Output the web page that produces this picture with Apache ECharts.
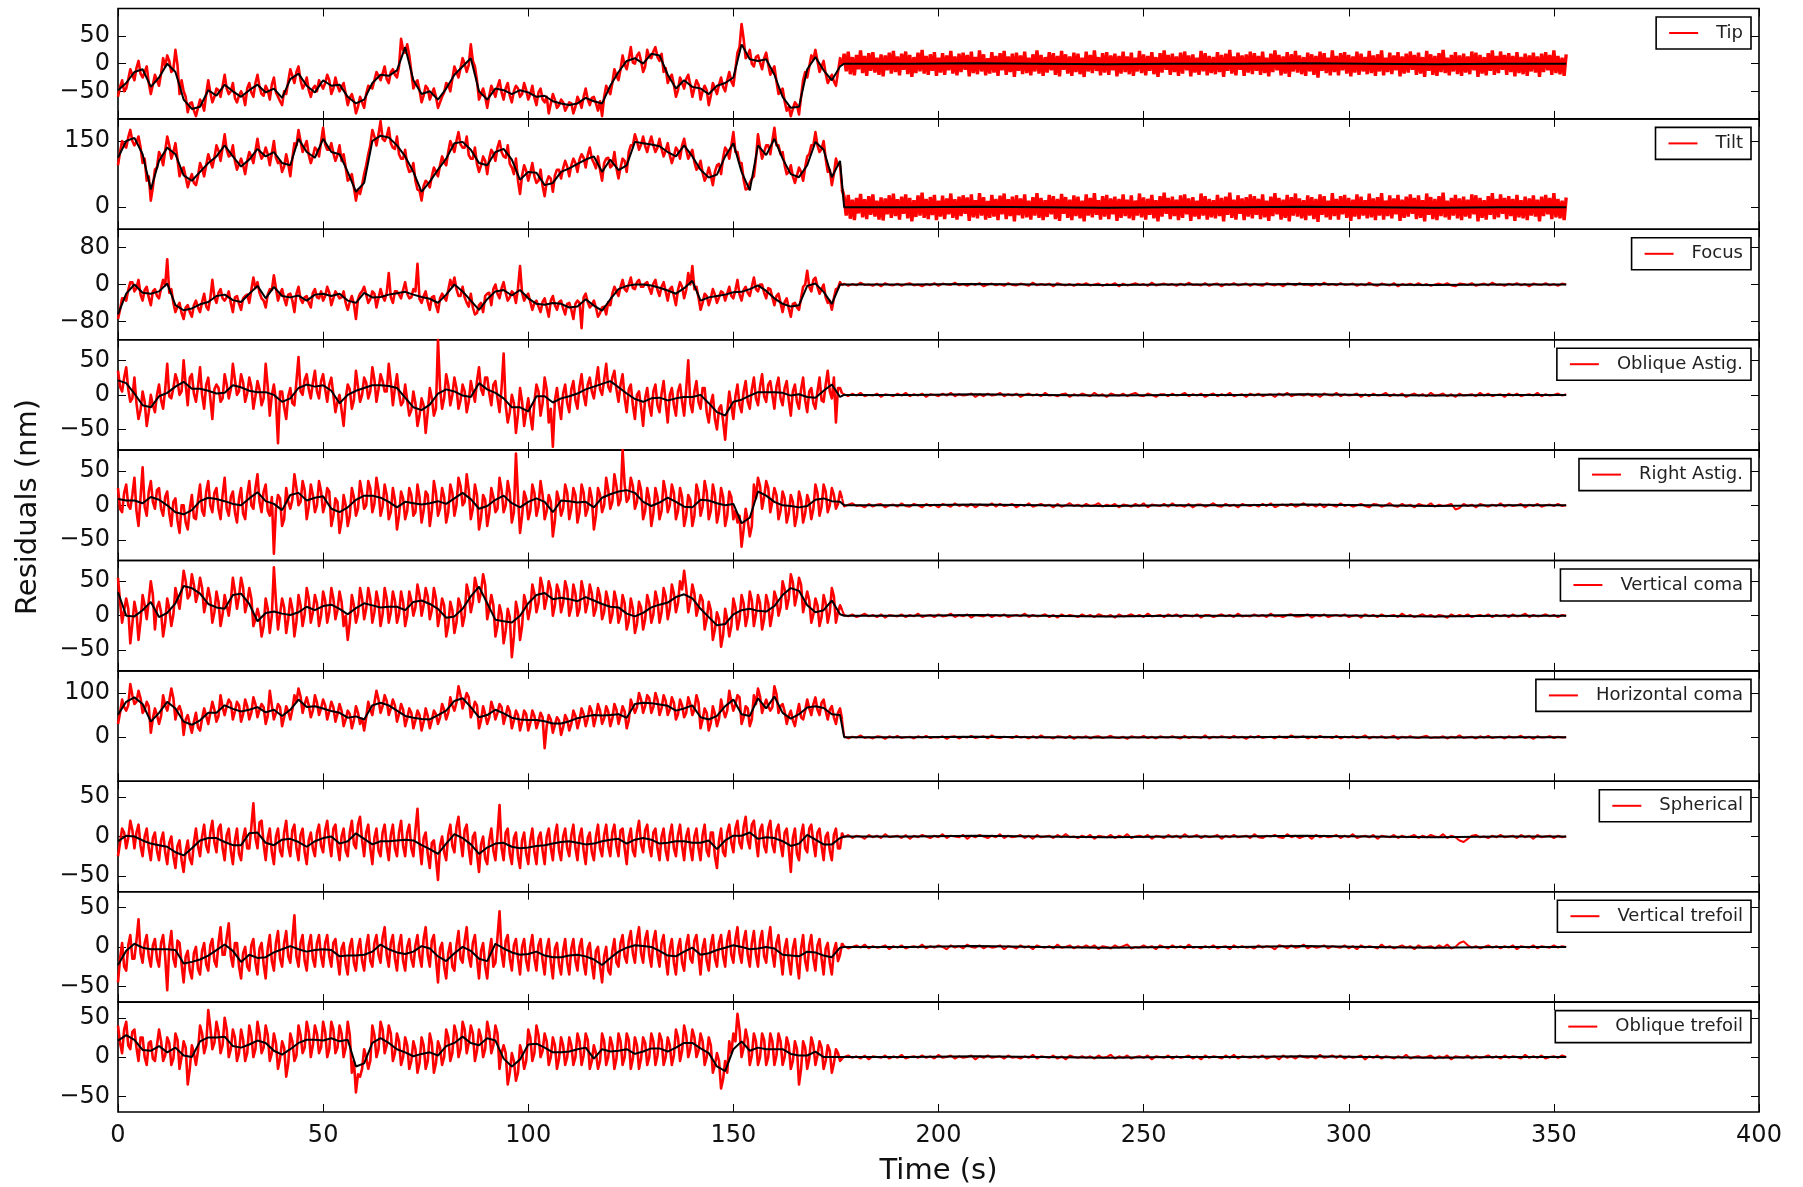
<!DOCTYPE html>
<html>
<head>
<meta charset="utf-8">
<script src="https://cdn.jsdelivr.net/npm/echarts@6/dist/echarts.min.js"></script>
<style>
html,body{margin:0;padding:0;background:#fff}
#chart{width:1803px;height:1187px}
</style>
</head>
<body>
<div id="chart"></div>
<script>
// ---- Sampling of the series (seconds) ----
// Raw residuals while disturbed come as two arrays: whole seconds and the half seconds between.
const ACTIVE_STEP = 1;
const HALF_OFFSET = 0.5;
const TREND_STEP = 2;           // smoothed residual trend
const SETTLE_START = 177;       // first sample after correction settles
const SETTLED_TREND_STEP = 16;

// x axis
const timeTicks = [0, 50, 100, 150, 200, 250, 300, 350, 400];

// ---- Tip ----
const tipTicks = [-50, 0, 50];
const tipActive = [
 -60,-30,-45,-10,-30,5,-25,-5,-55,-20,
 -40,10,15,-15,25,-55,-50,-88,-70,-95,
 -65,-85,-30,-70,-45,-60,-20,-55,-35,-70,
 -50,-75,-35,-60,-20,-55,-40,-65,-25,-60,
 -75,-55,-10,-35,-5,-45,-25,-60,-40,-30,
 -45,-20,-55,-25,-50,-35,-75,-55,-90,-60,
 -80,-40,-45,-15,-30,-5,-35,-10,-25,45,
 20,15,-45,-30,-70,-40,-65,-45,-80,-60,
 -35,-50,-5,-25,10,-15,35,-5,-65,-45,
 -80,-40,-60,-30,-65,-35,-70,-40,-60,-35,
 -65,-40,-75,-45,-70,-90,-55,-80,-65,-85,
 -70,-90,-60,-80,-45,-75,-60,-85,-95,-40,
 -55,-10,-30,15,-10,30,0,20,-15,25,
 10,30,5,-15,-35,-20,-60,-25,-45,-20,
 -60,-30,-65,-40,-75,-35,-55,-25,-50,-15,
 -40,20,72,10,25,-5,15,-10,20,-20,
 -5,-55,-45,-85,-95,-70,-92,-30,-25,15,
 25,-15,5,-35,-20,-40,10
];
const tipActiveHalf = [
 -42,-50,-28,-20,-8,-18,-15,-35,-38,-30,
 -18,-5,5,-10,-2,-30,-60,-72,-85,-80,
 -72,-55,-52,-60,-48,-40,-45,-50,-62,-58,
 -58,-45,-52,-35,-42,-58,-48,-38,-52,-68,
 -50,-32,-22,-15,-30,-38,-48,-45,-50,-38,
 -35,-30,-45,-40,-42,-55,-62,-68,-78,-70,
 -55,-42,-30,-22,-18,-28,-15,-20,-5,25,
 35,-15,-35,-48,-58,-45,-55,-60,-70,-52,
 -38,-28,-15,-8,0,-2,5,-30,-55,-60,
 -58,-50,-42,-52,-45,-58,-50,-45,-55,-48,
 -55,-62,-52,-65,-60,-72,-65,-75,-70,-78,
 -72,-78,-68,-60,-65,-62,-72,-68,-60,-48,
 -35,-22,-10,-2,8,2,15,5,-5,12,
 22,12,18,-8,-25,-38,-48,-35,-28,-38,
 -45,-38,-50,-48,-58,-45,-38,-42,-30,-32,
 -10,30,45,15,0,12,2,10,-2,-12,
 -32,-52,-68,-78,-82,-75,-60,-15,-5,8,
 5,-5,-18,-28,-32,-15,-2
];
const tipTrend = [
 -48,-35,-15,-10,-42,-25,0,-15,-65,-82,
 -78,-48,-58,-38,-50,-60,-48,-38,-52,-45,
 -62,-28,-18,-40,-52,-30,-40,-38,-60,-72,
 -65,-35,-20,-22,-12,30,-30,-55,-50,-65,
 -45,-20,-5,10,-50,-65,-45,-48,-55,-48,
 -52,-60,-58,-68,-72,-75,-72,-62,-68,-72,
 -40,-15,5,10,0,18,15,-20,-45,-30,
 -42,-45,-55,-40,-35,-25,35,8,5,8,
 -20,-60,-80,-78,-10,12,-12,-30,-5
];
const tipSettled = [
 18,-14,22,-19,12,-21,16,-10,24,-17,14,-22,19,-13,21,-16,11,-20,17,-23,
 15,-12,20,-18,23,-15,13,-21,18,-11,22,-19,16,-24,12,-17,20,-14,25,-18,
 14,-20,17,-13,21,-22,11,-16,19,-20,15,-12,23,-18,13,-21,18,-15,20,-11,
 16,-23,22,-17,12,-19,24,-14,17,-21,10,-18,21,-16,14,-22,19,-12,23,-20,
 13,-15,18,-24,20,-13,15,-19,22,-17,11,-21,17,-14,24,-18,16,-22,12,-16,
 21,-12,19,-20,14,-23,23,-11,17,-18,13,-22,20,-15,18,-19,11,-24,22,-14,
 16,-17,24,-13,12,-21,19,-16,21,-20,15,-12,18,-23,14,-18,22,-15,13,-19,
 20,-22,11,-14,23,-17,17,-21,14,-13,21,-19,12,-24,19,-16,24,-11,16,-20,
 18,-15,13,-22,20,-18,22,-12,15,-23,17,-16,11,-20,23,-14,19,-21,14,-17,
 12,-19,21,-15,16,-24,18,-13,25,-18,13,-21,20,-11,15,-22,17,-16,22,-19,
 19,-13,14,-20,22,-17,11,-23,18,-15,24,-12,16,-21,13,-18,21,-24,17,-14,
 23,-16,15,-19,12,-22,20,-14,17,-20,14,-25,22,-13,19,-17,11,-21,24,-15,
 14,-21,19,-12,21,-18,16,-23,13,-16,22,-20,18,-14,12,-19,23,-17,15,-22,
 17,-14,24,-21,11,-15,20,-19,15,-12,21,-23,13,-18,18,-16,22,-11,16,-20,
 20,-18,12,-24,23,-13,17,-20,14,-22,19,-15,25,-17,11,-21,16,-14,21,-19,
 15,-22,18,-16,13,-19,22,-12,20,-24,16,-18,12,-21,19,-13,24,-20,14,-17,
 22,-11,16,-20,19,-15,14,-23,21,-17,12,-19,18,-22,15,-14,20,-16,13,-24,
 18,-15,21,-12,16,-20,24,-17,14,-19,11,-22,17
];

// ---- Tilt ----
const tiltTicks = [0, 150];
const tiltActive = [
 95,150,135,175,140,160,100,60,15,85,
 125,95,160,110,145,70,90,45,75,50,
 100,70,120,90,140,105,165,115,140,85,
 110,75,125,100,155,110,135,95,150,100,
 80,120,70,145,175,125,150,100,135,115,
 180,130,145,105,140,120,60,75,15,30,
 75,120,175,140,195,150,180,135,160,110,
 130,80,100,40,15,60,45,90,70,115,
 95,150,125,170,135,160,110,135,80,115,
 75,130,105,150,115,140,90,110,30,95,
 60,100,55,85,25,70,35,85,65,105,
 70,110,80,120,90,135,100,115,60,110,
 90,125,65,110,80,140,165,130,160,125,
 160,125,155,115,145,100,135,110,155,110,
 130,85,105,60,90,50,95,75,135,110,
 170,125,100,40,55,70,165,110,140,120,
 180,140,125,75,95,55,90,60,115,140,
 170,125,150,80,50,110,95
];
const tiltActiveHalf = [
 125,140,158,150,148,135,110,70,45,90,
 115,128,140,125,108,85,68,62,55,70,
 88,95,105,112,128,135,130,118,105,98,
 95,105,115,128,125,118,120,122,112,105,
 92,98,110,140,150,138,118,115,130,148,
 142,130,122,118,105,90,65,45,40,50,
 95,140,160,165,155,160,145,132,120,110,
 95,82,60,38,48,55,70,80,95,102,
 125,138,150,142,135,118,110,98,95,105,
 110,122,135,125,112,98,75,60,72,82,
 78,70,60,48,58,65,72,85,88,92,
 95,100,108,112,118,110,88,85,100,112,
 95,88,90,105,125,140,150,142,138,145,
 140,135,132,128,118,115,128,140,130,120,
 102,90,78,70,72,80,98,112,128,140,
 125,100,62,42,65,110,135,125,140,150,
 140,120,95,80,70,72,80,90,120,140,
 140,132,110,85,75,95,40
];
const tiltTrend = [
 112,150,157,120,40,105,135,120,72,60,
 80,100,115,140,115,92,108,132,115,125,
 100,95,155,125,112,155,125,120,80,35,
 55,150,162,158,140,115,80,35,58,85,
 110,145,148,130,100,95,125,132,108,62,
 80,78,50,55,80,88,98,108,115,80,
 108,84,95,148,145,142,138,125,115,140,
 115,85,67,74,115,145,80,38,140,118,
 155,110,75,68,95,148,130,68,105
];
const tiltSettled = [
 24,-19,28,-26,17,-29,21,-14,30,-23,18,-27,25,-17,29,-21,15,-28,22,-30,
 20,-16,27,-24,31,-20,18,-28,24,-15,29,-25,21,-32,16,-22,27,-19,33,-24,
 19,-27,23,-18,28,-29,15,-21,26,-27,20,-16,31,-24,18,-28,24,-20,27,-15,
 22,-31,29,-23,16,-25,32,-19,23,-28,14,-24,28,-21,19,-29,26,-16,31,-27,
 18,-20,24,-32,27,-18,20,-25,29,-23,15,-28,23,-19,32,-24,21,-29,16,-22,
 28,-16,25,-27,19,-31,30,-15,23,-24,17,-29,27,-20,24,-25,15,-32,29,-19,
 21,-23,32,-17,16,-28,25,-21,28,-27,20,-16,24,-31,19,-24,29,-20,17,-25,
 27,-29,15,-19,31,-23,22,-28,19,-17,28,-25,16,-32,25,-21,33,-15,21,-27,
 24,-20,17,-29,27,-24,29,-16,20,-31,23,-21,15,-27,31,-19,25,-28,19,-23,
 16,-25,28,-20,21,-32,24,-17,33,-24,17,-28,27,-15,20,-29,23,-21,29,-25,
 25,-17,19,-27,29,-23,15,-31,24,-20,32,-16,21,-28,17,-24,28,-32,23,-19,
 31,-21,20,-25,16,-29,27,-19,23,-27,19,-33,29,-17,25,-23,15,-28,32,-20,
 19,-28,25,-16,28,-24,21,-31,17,-21,29,-27,24,-19,16,-25,31,-23,20,-29,
 23,-19,32,-28,15,-20,27,-25,20,-16,28,-31,17,-24,24,-21,29,-15,21,-27,
 27,-24,16,-32,31,-17,23,-27,19,-29,25,-20,33,-23,15,-28,21,-19,28,-25,
 20,-29,24,-21,17,-25,29,-16,27,-32,21,-24,16,-28,25,-17,32,-27,19,-23,
 29,-15,21,-27,25,-20,19,-31,28,-23,16,-25,24,-29,20,-19,27,-21,17,-32,
 24,-20,28,-16,21,-27,32,-23,19,-25,15,-29,22
];

// ---- Focus ----
const focusTicks = [-80, 0, 80];
const focusActive = [
 -75,-30,-35,5,-15,10,-35,-5,-45,-10,
 -30,10,55,-10,-60,-40,-75,-45,-70,-35,
 -60,-20,-55,10,-40,-10,-35,-15,-60,-25,
 -55,-25,-40,15,5,-30,-50,-10,20,-35,
 -10,-45,-20,-60,-5,-40,-25,-50,-10,-30,
 -35,-5,-45,-15,-30,-15,-55,-25,-75,-20,
 -5,-40,-15,-50,-10,-35,25,-40,-15,-30,
 5,-30,-10,45,-40,-15,-55,-25,-60,-20,
 -35,10,15,-25,-5,-40,-20,-65,-45,-60,
 -20,-45,0,-30,5,-35,-15,-40,40,-35,
 -20,-55,-35,-60,-30,-70,-25,-55,-35,-65,
 -40,-75,-35,-95,-20,-50,-35,-70,-50,-65,
 -45,-5,-25,10,-15,15,-10,10,-5,5,
 -20,10,-25,5,-35,-5,-45,5,-30,25,
 40,-5,-55,-20,-45,-10,-40,-15,-35,-5,
 -30,10,-35,-5,-25,15,-15,0,-30,-10,
 -45,-20,-60,-30,-70,-40,-55,-5,30,-15,
 15,-20,0,-40,-55,-10,5
];
const focusActiveHalf = [
 -55,-30,-12,5,-8,-22,-12,-28,-15,-25,
 -8,-2,-18,-40,-48,-62,-50,-60,-45,-50,
 -38,-48,-30,-28,-18,-30,-28,-40,-28,-42,
 -30,-22,-12,-8,-18,-35,-22,-12,-8,-20,
 -30,-22,-35,-20,-32,-28,-40,-18,-28,-15,
 -25,-18,-30,-22,-28,-40,-38,-42,-32,-15,
 -22,-32,-20,-30,-25,-18,-28,-15,-22,-12,
 -20,-28,-15,-32,-25,-38,-28,-45,-30,-28,
 -12,-5,-10,-25,-28,-48,-50,-62,-40,-25,
 -18,-10,-20,-8,-18,-28,-20,-8,-18,-25,
 -38,-40,-48,-38,-50,-35,-45,-38,-52,-42,
 -55,-42,-40,-28,-38,-45,-50,-62,-48,-38,
 -20,-15,-5,-10,0,-8,5,-5,2,-8,
 2,-12,-5,-15,-10,-25,-12,-5,-12,0,
 -10,-28,-40,-25,-30,-22,-28,-18,-20,-25,
 -12,-22,-12,-18,-5,-10,0,-18,-8,-28,
 -25,-40,-38,-52,-42,-50,-30,0,-5,10,
 -5,-10,-28,-35,-30,-8,-2
];
const focusTrend = [
 -65,-20,0,-18,-20,-15,2,-45,-56,-52,
 -43,-38,-25,-22,-34,-38,-20,-3,-30,-5,
 -25,-28,-24,-35,-22,-20,-25,-20,-35,-40,
 -18,-28,-27,-22,-19,-16,-22,-27,-31,-40,
 -22,0,-15,-35,-55,-32,-15,-12,-24,-12,
 -30,-42,-44,-40,-42,-50,-48,-32,-46,-57,
 -32,-10,-3,0,0,-2,-7,-13,-20,-8,
 8,-35,-28,-25,-22,-17,-16,-10,-2,-14,
 -30,-42,-48,-45,-3,2,-16,-42,0
];
const focusSettled = [
 2,-3,1,-2,4,-1,0,-3,2,-4,3,-1,-2,2,-3,1,3,-2,0,-4,
 1,-2,3,-3,2,0,-1,4,-2,1,-3,2,-1,3,-4,0,2,-2,1,-3,
 3,-1,-2,2,0,-3,4,-2,1,-1,2,-4,3,0,-2,1,-3,2,-1,3,
 -2,0,2,-3,1,-1,3,-4,2,-2,0,3,-1,1,-3,4,-2,0,2,-1,
 1,-3,2,-2,4,-1,0,-2,3,-3,1,2,-4,1,-1,3,-2,0,2,-3,
 2,-1,-3,3,0,-2,1,-4,2,1,-2,3,-1,0,-3,2,-2,4,-1,1,
 -2,3,-1,0,2,-3,1,-2,4,-1,-3,2,0,-2,3,-4,1,-1,2,-2,
 3,-2,1,-3,0,2,-1,3,-2,-4,2,1,-1,3,-3,0,2,-2,4,-1,
 0,-3,2,-1,3,-2,1,-4,2,0,-1,3,-2,1,-3,2,0
];

// ---- Oblique astigmatism ----
const obliqueAstigTicks = [-50, 0, 50];
const obliqueAstigActive = [
 35,5,40,-10,25,-35,5,-45,0,-25,
 15,-20,45,-5,30,0,50,-15,30,-10,
 40,-20,25,-35,15,-10,30,-5,45,0,
 30,-10,25,-20,20,-15,45,-30,15,-70,
 5,-35,10,-15,55,0,30,-5,35,-5,
 30,-10,25,-25,0,-45,15,-20,35,-10,
 25,-5,40,-10,30,5,45,-15,30,-15,
 15,-30,5,-45,-5,-55,10,-30,80,-20,
 30,-15,25,-20,15,-25,20,-10,40,0,
 25,-15,20,-25,60,-40,0,-55,10,-45,
 -5,-50,15,-30,25,-40,-75,10,-35,15,
 -25,20,-20,30,-15,25,-5,40,0,45,
 5,35,-10,30,-25,15,-35,5,-45,10,
 -30,15,-25,20,-40,10,-30,15,-30,50,
 -25,20,-20,10,-40,0,-50,-15,-65,5,
 -35,15,-25,20,-20,25,-15,30,-10,20,
 -20,25,-15,20,-30,15,-20,25,-25,10,
 -20,25,-10,35,-5,-40,10
];
const obliqueAstigActiveHalf = [
 12,25,8,-5,-12,-22,-10,-25,-15,0,
 -8,8,-2,10,20,5,15,25,2,12,
 0,15,-5,8,10,-5,15,8,22,5,
 18,2,12,-2,8,-5,12,0,-8,5,
 -18,-2,-12,20,5,22,8,18,5,20,
 8,15,0,-10,-22,-5,8,-8,12,0,
 18,5,22,8,20,5,18,10,2,-10,
 -8,-22,-12,-30,-15,-25,-5,-20,10,-5,
 15,0,10,-8,5,-10,5,20,8,25,
 2,15,-5,10,-15,-25,-12,-28,-10,-25,
 -30,-10,5,-12,8,-20,-8,-15,2,-12,
 8,-8,12,0,15,5,18,8,22,12,
 25,8,15,-5,8,-15,0,-18,-5,-15,
 5,-15,2,-12,0,-15,5,-10,8,-12,
 5,-10,10,-25,-12,-35,-20,-38,-25,-15,
 -2,-15,5,-10,8,-5,12,-2,15,0,
 12,-5,10,-8,5,-10,8,-8,5,-12,
 5,-8,15,5,25,10,2
];
const obliqueAstigTrend = [
 21,17,2,-15,-18,-2,3,12,19,9,
 9,6,2,3,14,11,6,4,4,0,
 -10,-5,10,15,12,14,6,-12,0,6,
 10,14,14,13,10,-4,-18,-22,-14,2,
 8,5,-1,-3,17,8,3,-5,-18,-18,
 -24,-2,-2,-11,-5,-2,2,8,12,16,
 20,11,2,-6,-10,-5,-4,-8,-5,-3,
 -3,0,-12,-25,-30,-10,-7,-1,4,4,
 4,3,-1,1,-3,-4,6,15,-3
];
const obliqueAstigSettled = [
 1,-2,2,-1,3,-2,0,-1,2,-3,1,0,-2,2,-1,3,-2,1,-1,2,
 -3,1,0,-2,2,-1,3,-2,1,-1,0,2,-3,1,-2,2,-1,0,3,-2,
 1,-1,2,-3,0,2,-1,1,-2,3,-1,0,-2,1,2,-3,1,-1,2,0,
 -2,3,-1,1,-3,2,0,-1,2,-2,1,3,-1,-2,2,0,-3,1,1,-2,
 2,-1,0,3,-2,1,-1,2,-3,0,2,-2,1,-1,3,-2,0,1,-3,2,
 -1,2,-2,0,1,-3,2,-1,3,-2,0,1,-1,2,-2,1,-3,2,0,-1,
 3,-2,1,-1,0,2,-3,1,-2,2,-1,0,3,-2,1,-1,2,-3,0,2,
 -1,1,-2,3,-1,0,2,-2,1,-3,2,-1,0,1,-2,3,-1,2,-2,0,
 1,-3,2,-1,2,-2,0,1,-1,3,-2,1,-1,0,2,-1,1
];

// ---- Right astigmatism ----
const rightAstigTicks = [-50, 0, 50];
const rightAstigActive = [
 25,-10,30,-5,40,-30,55,-15,35,-5,
 25,-15,20,-30,10,-40,0,-35,15,-20,
 30,-15,35,-10,25,-20,40,-15,20,-25,
 25,-20,35,-5,45,-10,30,-15,-70,15,
 -30,25,-5,45,0,35,-20,30,-10,35,
 -10,25,-30,10,-40,15,-30,25,-15,35,
 -5,35,-10,40,-15,30,-20,25,-35,20,
 -20,25,-15,30,-25,20,-30,35,-15,25,
 -25,30,-15,40,0,45,-20,30,-35,15,
 -30,25,-10,40,-10,35,-25,75,-40,20,
 -20,30,-15,35,-20,15,-45,20,-15,30,
 -20,25,-25,30,-15,25,-35,25,-10,40,
 -5,45,0,80,5,40,-5,35,-20,25,
 -30,25,-20,35,-10,30,-20,25,-30,15,
 -30,30,-15,35,-20,30,-25,25,-30,20,
 -20,-25,-60,-5,-45,30,40,-5,35,-10,
 25,-20,20,-25,15,-30,20,-25,15,-20,
 30,-15,30,-10,25,-5,20
];
const rightAstigActiveHalf = [
 -5,18,0,15,-8,12,-2,20,5,22,
 -5,12,-12,5,-22,0,-25,-5,-18,8,
 -8,20,0,18,-5,15,-5,12,-10,10,
 -12,15,0,25,5,20,-8,12,-5,10,
 -20,5,8,25,5,22,-2,15,0,20,
 2,20,-15,5,-22,0,-15,12,-5,18,
 0,25,2,22,-2,15,-10,8,-15,10,
 -8,15,-10,12,-8,15,-8,18,-5,12,
 -10,18,0,28,5,22,-5,15,-18,8,
 -12,12,-5,22,0,18,-10,12,-15,10,
 -8,18,-2,15,-8,5,-22,8,-5,18,
 -5,15,-10,18,-5,10,-15,15,0,22,
 5,28,8,30,10,28,5,22,-8,10,
 -12,12,-8,20,0,18,-8,12,-15,8,
 -15,18,-2,20,-8,15,-10,12,-15,12,
 -8,-15,-35,-22,-30,10,28,12,25,5,
 15,-8,10,-12,5,-15,8,-12,5,-5,
 18,-2,20,0,15,2,10
];
const rightAstigTrend = [
 9,7,7,3,12,8,0,-10,-13,-7,
 6,11,9,6,2,0,10,19,6,2,
 -7,15,18,7,11,13,-5,-10,-3,8,
 14,14,11,5,-3,5,3,1,3,6,
 2,10,18,9,-5,-1,8,14,3,-3,
 5,10,5,-10,7,6,4,5,-3,11,
 16,20,22,18,5,-1,4,11,5,-2,
 -3,8,7,3,0,2,-26,-18,20,14,
 5,0,-1,-3,-1,8,10,6,5
];
const rightAstigSettled = [
 -2,1,3,-1,0,-3,2,-2,1,2,-3,0,1,-2,3,-1,-2,2,0,-3,
 2,-1,1,-3,2,0,-2,3,-1,1,-2,2,-3,1,0,-1,3,-2,2,-1,
 0,2,-3,1,-1,3,-2,0,2,-1,1,-3,2,-2,0,3,-1,1,-2,2,
 -1,0,3,-2,1,-1,2,-3,1,0,-2,2,-1,3,-3,1,0,-1,2,-2,
 3,-1,0,-2,2,-3,1,1,-2,0,3,-1,-2,2,-1,1,-3,2,0,-1,
 1,-2,2,-1,3,-3,0,1,-1,2,-2,0,3,-1,1,-2,2,-3,1,0,
 -2,3,-1,1,-2,0,2,-1,-3,2,1,-2,0,3,-1,-2,2,-1,1,-3,
 2,0,-1,3,-2,1,-1,0,2,-6,-4,2,-1,1,-3,2,0,-2,1,-1,
 3,-2,1,-1,0,2,-3,1,-1,2,-2,0,1,-1,2,-1,0
];

// ---- Vertical coma ----
const verticalComaTicks = [-50, 0, 50];
const verticalComaActive = [
 55,-10,25,-40,20,-35,30,-5,50,-20,
 20,-30,25,-15,40,10,65,25,60,20,
 55,5,40,-10,35,-15,30,0,55,10,
 55,5,40,-15,10,-30,25,-25,70,-20,
 25,-25,25,-30,30,-15,40,-10,30,-15,
 35,-10,40,-5,35,-15,-35,30,-10,40,
 -5,40,-10,35,-15,40,-10,35,-10,35,
 -15,35,0,45,0,40,-5,40,-15,25,
 -30,20,-25,25,-15,45,5,55,20,60,
 -5,30,-30,15,-40,10,-60,20,-35,30,
 -5,45,5,55,10,50,0,45,5,50,
 0,45,0,50,5,45,0,40,-5,35,
 -10,35,-10,30,-20,25,-25,20,-20,30,
 -10,35,-10,40,-5,45,5,50,65,5,
 45,0,30,-20,20,-35,5,-45,10,-30,
 25,-20,30,-15,35,-15,30,-20,30,-15,
 35,0,50,10,60,15,55,5,35,-10,
 25,-15,30,-10,40,-10,15
];
const verticalComaActiveHalf = [
 20,8,10,-12,5,-8,15,22,30,12,
 5,-10,10,2,25,35,50,30,45,32,
 40,20,25,5,20,2,15,22,35,28,
 40,18,25,-5,-2,-15,10,0,20,2,
 12,-5,10,-8,15,2,25,5,18,0,
 22,5,25,8,20,0,-10,15,2,25,
 10,25,5,20,2,25,5,22,2,20,
 0,22,12,30,15,28,8,25,2,15,
 -15,8,-10,15,0,32,20,42,35,45,
 10,15,-15,2,-22,-2,-30,5,-15,18,
 10,32,18,42,25,38,15,35,18,38,
 12,32,10,35,18,32,10,28,5,22,
 2,22,0,18,-8,10,-12,12,-5,18,
 2,22,5,28,10,32,18,38,40,20,
 32,12,22,-5,8,-20,-5,-28,-5,-15,
 12,-5,18,0,22,2,18,-5,18,2,
 25,12,38,25,48,30,45,20,22,2,
 15,-2,18,5,28,5,8
];
const verticalComaTrend = [
 34,0,-1,8,20,-2,4,18,43,40,
 32,17,12,10,30,32,17,-8,4,6,
 3,1,5,13,8,14,16,10,2,11,
 18,15,12,13,13,8,20,22,17,10,
 -3,-1,10,28,42,18,-6,-8,-10,0,
 18,30,33,24,26,24,21,27,22,17,
 13,12,3,-1,4,12,16,19,27,31,
 25,10,-2,-14,-12,2,8,10,7,6,
 14,30,40,36,15,5,8,22,2
];
const verticalComaSettled = [
 1,-1,2,-2,0,3,-1,1,-2,2,-3,1,0,-1,2,-2,1,-1,3,-2,
 0,1,-2,2,-1,0,3,-2,1,-1,2,-3,1,0,-1,2,-2,1,-1,2,
 -2,0,1,-1,3,-2,1,-1,0,2,-2,1,-3,2,-1,1,0,-2,2,-1,
 1,-2,2,0,-1,1,-3,2,-1,0,2,-1,1,-2,3,-1,0,1,-2,2,
 -1,2,-2,1,0,-1,2,-3,1,1,-2,0,2,-1,1,-2,3,-1,0,-1,
 2,-1,1,-2,3,-1,0,-2,1,2,-1,-1,0,2,-3,1,-1,2,-2,0,
 1,-1,2,-2,0,1,-3,2,-1,1,-2,2,-1,0,1,-2,3,-1,1,-2,
 0,2,-1,1,-2,1,0,-3,2,-1,1,-1,2,-2,0,1,-1,2,-2,1,
 -1,1,-2,2,-1,0,3,-2,1,-1,0,2,-1,1,-2,1,0
];

// ---- Horizontal coma ----
const horizontalComaTicks = [0, 100];
const horizontalComaActive = [
 30,85,60,120,75,105,55,80,10,65,
 30,95,60,110,40,70,5,50,10,55,
 15,65,30,80,35,95,50,85,40,80,
 35,85,40,90,45,75,30,105,40,75,
 25,70,40,95,110,55,90,45,95,50,
 85,40,80,35,75,25,60,20,70,30,
 15,80,50,105,55,95,50,85,35,75,
 25,65,20,60,15,65,20,60,30,75,
 40,90,60,115,65,100,45,80,20,70,
 30,80,40,75,30,70,20,60,15,60,
 15,60,20,55,-25,50,10,45,5,50,
 15,60,20,65,25,70,25,75,30,70,
 25,75,30,70,20,85,55,100,55,95,
 55,100,50,95,50,90,40,85,45,90,
 50,95,20,65,15,70,25,85,45,105,
 60,95,30,70,25,95,110,55,85,60,
 115,55,75,30,60,25,75,40,85,50,
 90,50,85,40,70,30,65
];
const horizontalComaActiveHalf = [
 55,68,72,95,80,88,62,70,42,50,
 48,72,82,88,62,55,40,28,35,22,
 42,48,55,62,48,68,70,78,58,72,
 52,70,55,75,62,68,48,72,55,68,
 45,58,62,80,92,75,72,60,78,65,
 72,58,68,52,60,40,52,38,55,42,
 45,62,78,85,70,82,65,72,52,62,
 42,55,38,50,35,48,38,52,45,62,
 55,72,78,95,82,90,60,72,38,52,
 45,65,55,68,48,58,38,50,35,52,
 32,48,35,45,25,40,28,38,22,40,
 30,48,38,52,42,58,45,60,42,58,
 42,62,48,58,38,70,68,85,70,88,
 68,85,65,82,62,78,52,72,55,75,
 62,78,40,55,32,52,42,62,60,80,
 75,90,45,65,40,75,92,72,70,68,
 98,70,58,48,38,52,45,60,65,75,
 62,78,60,62,45,55,40
];
const horizontalComaTrend = [
 51,80,90,75,35,55,80,65,35,28,
 38,55,55,72,64,58,62,68,56,62,
 48,62,85,68,70,65,59,55,44,47,
 40,72,78,72,60,48,44,41,40,50,
 60,82,88,68,45,50,62,54,44,40,
 39,39,36,31,31,36,43,47,50,49,
 50,52,44,75,78,77,74,71,60,65,
 72,45,40,48,70,85,52,48,88,65,
 92,55,42,52,67,70,66,52,50
];
const horizontalComaSettled = [
 2,-3,1,-1,4,-2,0,-3,2,1,-4,2,-1,3,-2,0,1,-3,2,-1,
 3,-2,0,-1,2,-4,1,2,-3,1,-1,3,-2,0,2,-3,4,-1,-2,1,
 0,-2,3,-1,1,-3,2,-2,4,-1,0,-3,2,1,-2,3,-4,1,-1,2,
 -3,1,2,-2,0,3,-1,-2,1,-4,2,0,-1,3,-2,1,-3,2,0,-1,
 2,-1,-3,3,-2,1,0,-2,4,-3,1,-1,2,0,-2,3,-1,1,-4,2,
 -1,3,-2,0,1,-3,2,-1,-2,4,-1,0,2,-3,1,-2,3,-1,0,-2,
 3,-3,1,-1,2,-2,0,4,-3,1,-1,2,-2,0,3,-4,1,-1,2,-1,
 -2,1,3,-2,0,-1,2,-3,1,-1,4,-2,0,1,-3,2,-1,3,-2,0,
 1,-3,2,-1,0,3,-2,1,-4,2,-1,0,2,-2,1,-1,0
];

// ---- Spherical ----
const sphericalTicks = [-50, 0, 50];
const sphericalActive = [
 -25,10,-15,20,-15,15,-25,10,-30,5,
 -30,5,-35,0,-40,-5,-45,-5,-35,10,
 -25,15,-20,20,-20,15,-30,10,-35,10,
 -30,10,-15,42,-15,20,-30,10,-35,10,
 -25,20,-25,15,-30,10,-35,5,-25,15,
 -20,20,-25,15,-30,10,-25,20,-15,25,
 -25,15,-35,10,-25,15,-30,15,-25,20,
 -25,15,-25,35,-35,5,-40,-5,-55,0,
 -30,15,-20,25,-25,15,-35,5,-45,0,
 -35,10,-30,40,-30,10,-35,5,-40,5,
 -35,10,-35,5,-35,10,-30,15,-30,10,
 -25,15,-30,10,-35,5,-30,15,-25,15,
 -25,15,-25,10,-35,10,-25,20,-20,15,
 -25,10,-30,10,-30,15,-25,15,-30,10,
 -30,10,-30,15,-25,5,-40,10,-25,15,
 -20,20,-15,25,-15,20,-25,15,-20,20,
 -20,15,-25,10,-45,10,-30,15,-20,15,
 -25,10,-30,5,-30,10,-15
];
const sphericalActiveHalf = [
 -8,5,-2,8,5,-12,0,-15,-2,-18,
 -5,-20,-8,-25,-12,-30,-18,-28,-8,-12,
 0,-12,5,-8,10,-15,2,-18,-5,-22,
 -2,-15,12,-2,18,-10,-2,-20,0,-18,
 5,-12,8,-15,2,-20,-5,-15,5,-12,
 8,-8,10,-12,0,-18,5,-10,15,-5,
 5,-15,-2,-18,5,-12,2,-15,5,-12,
 5,-15,8,-10,-2,-22,-8,-28,-12,-20,
 2,-12,12,-5,8,-15,0,-22,-10,-28,
 -5,-18,2,-15,5,-22,-2,-25,-5,-22,
 -5,-20,-2,-18,0,-15,2,-18,0,-15,
 2,-15,0,-18,-2,-20,0,-15,2,-12,
 5,-12,8,-15,-2,-18,5,-10,8,-12,
 5,-15,0,-18,2,-15,2,-12,0,-15,
 0,-15,2,-18,5,-25,-5,-20,5,-8,
 10,-8,12,-5,15,-5,8,-12,10,-10,
 8,-10,5,-15,-2,-22,2,-15,10,-8,
 5,-12,0,-18,2,-15,5
];
const sphericalTrend = [
 -6,1,0,-5,-9,-11,-13,-20,-24,-15,
 -5,-2,-2,-7,-11,-11,4,5,-8,-11,
 -4,-3,-7,-13,-6,-2,0,-9,-6,4,
 -3,-10,-6,-6,-5,-4,-5,-11,-16,-22,
 -9,3,-2,-10,-22,-14,-9,-8,-13,-15,
 -14,-12,-11,-9,-7,-6,-8,-10,-9,-6,
 -4,-3,-9,-4,-2,-4,-9,-8,-6,-6,
 -8,-8,-5,-16,-5,1,1,5,-3,-1,
 -2,-6,-12,-9,2,-4,-10,-10,-2
];
const sphericalSettled = [
 -1,2,-2,1,0,-3,2,-1,1,-2,3,-1,0,1,-2,2,-3,1,-1,2,
 0,-2,1,-1,3,-2,1,0,-1,2,-3,1,-1,2,0,-2,1,-1,3,-2,
 1,-1,0,2,-2,1,-3,2,-1,0,1,-2,2,-1,3,-1,0,-2,1,-1,
 2,-3,1,0,-1,2,-2,1,-1,3,-2,0,1,-1,2,-3,1,0,-2,2,
 -1,1,-2,3,-1,0,2,-2,1,-1,0,2,-3,1,-1,2,-1,0,1,-2,
 3,-1,-2,1,0,2,-1,-2,3,-1,1,-2,0,1,-3,2,-1,1,-1,0,
 2,-2,1,-1,3,-2,0,1,-1,2,-3,1,0,-1,2,-2,1,-1,0,2,
 -2,1,-1,2,0,-1,3,-2,1,-1,-5,-7,-3,1,2,-1,0,-2,1,-1,
 2,-1,0,1,-2,2,-1,1,-3,2,-1,0,1,-2,1,-1,0
];

// ---- Vertical trefoil ----
const verticalTrefoilTicks = [-50, 0, 50];
const verticalTrefoilActive = [
 -45,5,-30,15,-15,35,-20,15,-25,10,
 -25,15,-55,20,-25,5,-45,-5,-40,0,
 -35,5,-30,10,-25,25,-10,30,-25,5,
 -40,0,-30,10,-35,5,-40,15,-30,20,
 -25,20,-20,40,-25,15,-30,15,-25,15,
 -25,15,-25,10,-35,5,-35,10,-30,10,
 -30,15,-25,15,-20,25,-25,15,-30,15,
 -30,10,-25,15,-25,25,-25,15,-45,5,
 -40,5,-30,20,-20,25,-25,15,-40,5,
 -40,10,-20,45,-25,15,-30,10,-35,10,
 -30,15,-30,10,-35,10,-40,5,-35,10,
 -35,10,-30,10,-35,5,-40,0,-45,0,
 -35,10,-25,15,-20,20,-20,25,-20,20,
 -25,20,-25,15,-35,10,-35,10,-30,15,
 -20,15,-35,10,-30,15,-25,15,-25,20,
 -20,25,-20,20,-25,20,-25,20,-20,25,
 -25,15,-35,10,-35,10,-40,15,-30,15,
 -30,10,-35,5,-35,5,-10
];
const verticalTrefoilActiveHalf = [
 -15,-25,2,-15,8,-8,5,-12,2,-15,
 5,-12,0,-15,8,-22,-12,-30,-8,-28,
 -5,-22,2,-18,5,-10,12,-12,5,-25,
 -8,-25,2,-20,-2,-22,-2,-18,5,-15,
 5,-12,10,-12,5,-18,2,-15,5,-12,
 5,-12,5,-15,-2,-22,0,-20,-2,-18,
 0,-18,5,-10,12,-10,5,-15,2,-18,
 0,-15,2,-12,10,-10,8,-15,-2,-25,
 -8,-25,2,-15,8,-12,5,-15,-5,-25,
 -8,-25,12,-8,8,-15,2,-15,0,-18,
 0,-15,2,-18,-2,-20,-2,-22,-5,-20,
 -2,-18,0,-20,-2,-22,-5,-25,-12,-30,
 -5,-20,5,-12,8,-8,10,-8,10,-10,
 8,-10,5,-15,-2,-20,-2,-20,2,-15,
 8,-10,-2,-18,2,-15,5,-12,8,-10,
 10,-8,8,-10,5,-10,8,-12,8,-8,
 5,-12,-2,-18,-2,-20,-2,-18,2,-15,
 2,-15,-2,-20,-5,-18,5
];
const verticalTrefoilTrend = [
 -23,-5,4,-1,-3,-3,-3,-4,-21,-19,
 -16,-11,-4,3,-5,-19,-10,-14,-13,-7,
 -3,1,-3,-6,-4,-3,-4,-12,-11,-11,
 -10,-6,3,-3,-7,-9,-6,1,-2,-12,
 -18,-8,0,-5,-15,-18,4,-2,-7,-10,
 -9,-6,-11,-13,-13,-11,-10,-12,-16,-23,
 -14,-6,-1,2,1,0,-5,-11,-12,-6,
 -1,-10,-8,-4,-1,2,0,-3,-2,0,
 -2,-10,-11,-12,-6,-7,-11,-13,-1
];
const verticalTrefoilSettled = [
 1,-2,0,2,-1,3,-2,1,-1,0,2,-3,1,-1,2,-2,0,1,-1,3,
 -2,1,-1,2,0,-3,2,-1,1,-2,3,0,-1,2,-2,1,-1,0,2,-3,
 1,0,-2,2,-1,1,-3,2,0,-1,1,-2,3,-1,0,2,-2,1,-1,2,
 -1,2,-3,1,0,-2,2,-1,1,3,-2,0,-1,2,-1,1,-3,2,0,-2,
 2,-1,1,-2,3,-1,0,-2,1,-1,2,-2,0,1,-3,2,-1,1,-1,0,
 -2,2,-1,1,0,-3,2,1,-2,2,-1,0,3,-2,1,-1,0,2,-2,1,
 0,-1,2,-2,1,-3,2,-1,1,0,-2,3,-1,1,-2,0,2,-1,1,-3,
 2,-1,0,1,-2,2,-1,3,-2,0,5,7,2,-1,1,-2,0,2,-1,1,
 -2,1,-1,2,-3,1,0,-1,2,-2,1,0,-1,2,-1,1,0
];

// ---- Oblique trefoil ----
const obliqueTrefoilTicks = [-50, 0, 50];
const obliqueTrefoilActive = [
 40,5,45,10,35,-5,25,-10,20,-5,
 35,-5,25,-10,30,-15,20,-35,15,-10,
 40,5,60,10,45,5,50,0,35,-5,
 35,-5,40,0,45,5,40,-5,30,-15,
 20,-25,30,-5,40,5,45,0,40,5,
 45,0,45,5,40,0,45,-20,-45,-25,
 10,-15,40,0,45,5,40,-5,30,-10,
 25,-15,20,-20,25,-15,30,-20,20,-10,
 35,-5,40,0,45,5,40,-5,35,0,
 45,5,40,-15,15,-35,5,-30,15,-15,
 35,-5,40,0,30,-10,25,-15,25,-10,
 25,-10,30,-10,30,-15,15,-15,30,-10,
 25,-15,30,-10,30,-15,25,-15,25,-10,
 30,-10,30,-10,25,-10,35,-5,40,0,
 35,0,30,-10,25,-20,5,-40,-5,20,
 30,55,0,35,-10,30,-10,30,-10,30,
 -10,30,-10,25,-15,20,-35,20,-15,25,
 -10,20,-15,15,-20,10,-5
];
const obliqueTrefoilActiveHalf = [
 18,35,15,32,12,25,0,18,-2,15,
 20,2,18,-2,22,0,12,-15,5,8,
 30,15,38,18,32,15,35,10,25,5,
 22,5,28,10,30,12,28,5,18,-2,
 12,-8,20,2,28,12,32,15,30,12,
 32,10,35,12,30,12,28,-5,-22,-15,
 0,-5,28,10,35,15,30,5,20,0,
 15,-5,10,-8,15,-5,18,-8,12,0,
 25,5,30,10,35,18,30,8,25,10,
 32,15,30,5,5,-20,-5,-20,5,-5,
 25,5,28,8,20,0,15,-2,15,0,
 15,0,20,2,22,-5,5,-5,20,0,
 15,-2,20,0,22,-2,15,-2,18,0,
 20,2,22,0,15,2,25,8,28,10,
 25,8,20,0,15,-10,-5,-28,-20,5,
 20,35,12,22,2,20,0,22,0,20,
 2,20,0,15,-5,10,-15,12,-2,15,
 2,12,-5,8,-8,5,-2
];
const obliqueTrefoilTrend = [
 21,28,22,9,8,14,6,12,2,0,
 20,25,25,26,14,12,16,21,18,8,
 3,10,18,22,22,21,24,20,22,-12,
 -8,18,24,18,10,6,1,4,6,2,
 14,18,26,18,15,24,21,-2,-12,-3,
 16,17,12,6,6,7,10,12,-2,10,
 7,8,10,4,7,11,11,7,12,18,
 18,11,5,-12,-18,10,20,8,12,10,
 10,10,4,2,2,7,0,0,0
];
const obliqueTrefoilSettled = [
 0,2,-1,1,-2,2,-3,1,0,-1,2,-2,1,-1,3,-2,0,1,-1,2,
 -1,1,-2,3,-1,0,2,-2,1,-1,0,2,-3,1,-1,2,-1,0,1,-2,
 2,-1,0,-2,1,-1,3,-2,1,0,-1,2,-2,1,-3,2,0,-1,1,-1,
 1,-2,2,-1,0,3,-2,1,-1,2,-2,0,1,-1,2,-3,1,0,-1,2,
 -2,1,-1,0,2,-2,1,-3,2,-1,1,0,-2,2,-1,3,-2,1,0,-1,
 1,-1,2,-2,0,1,-3,2,-1,1,-2,2,0,-1,1,-2,3,-1,0,2,
 -1,2,-2,1,-1,0,2,-3,1,-1,2,-2,1,0,-2,1,-1,3,-2,0,
 1,-1,0,2,-2,1,-1,2,-3,1,0,-1,2,-2,1,-1,0,2,-1,1,
 -2,2,-1,1,0,-2,3,-1,1,-1,2,-2,0,1,-1,2,0
];

// smoothed trend after the loop has settled (all modes)
const settledTrend = [0, 0, 1, 0, -1, 0, 0, 1, 0, -1, 0, 0];

// ---- panel table ----
const panels = [
  { name: 'Tip',              active: tipActive,             half: tipActiveHalf,             settled: tipSettled,             settledStep: 0.5, settledWidth: 3.4, trend: tipTrend,             min: -100, max: 100, ticks: tipTicks },
  { name: 'Tilt',             active: tiltActive,            half: tiltActiveHalf,            settled: tiltSettled,            settledStep: 0.5, settledWidth: 3.4, trend: tiltTrend,            min: -50,  max: 200, ticks: tiltTicks },
  { name: 'Focus',            active: focusActive,           half: focusActiveHalf,           settled: focusSettled,           settledStep: 1,   settledWidth: 2,   trend: focusTrend,           min: -120, max: 120, ticks: focusTicks },
  { name: 'Oblique Astig.',   active: obliqueAstigActive,    half: obliqueAstigActiveHalf,    settled: obliqueAstigSettled,    settledStep: 1,   settledWidth: 2,   trend: obliqueAstigTrend,    min: -80,  max: 80,  ticks: obliqueAstigTicks },
  { name: 'Right Astig.',     active: rightAstigActive,      half: rightAstigActiveHalf,      settled: rightAstigSettled,      settledStep: 1,   settledWidth: 2,   trend: rightAstigTrend,      min: -80,  max: 80,  ticks: rightAstigTicks },
  { name: 'Vertical coma',    active: verticalComaActive,    half: verticalComaActiveHalf,    settled: verticalComaSettled,    settledStep: 1,   settledWidth: 2,   trend: verticalComaTrend,    min: -80,  max: 80,  ticks: verticalComaTicks },
  { name: 'Horizontal coma',  active: horizontalComaActive,  half: horizontalComaActiveHalf,  settled: horizontalComaSettled,  settledStep: 1,   settledWidth: 2,   trend: horizontalComaTrend,  min: -100, max: 150, ticks: horizontalComaTicks },
  { name: 'Spherical',        active: sphericalActive,       half: sphericalActiveHalf,       settled: sphericalSettled,       settledStep: 1,   settledWidth: 2,   trend: sphericalTrend,       min: -70,  max: 70,  ticks: sphericalTicks },
  { name: 'Vertical trefoil', active: verticalTrefoilActive, half: verticalTrefoilActiveHalf, settled: verticalTrefoilSettled, settledStep: 1,   settledWidth: 2,   trend: verticalTrefoilTrend, min: -70,  max: 70,  ticks: verticalTrefoilTicks },
  { name: 'Oblique trefoil',  active: obliqueTrefoilActive,  half: obliqueTrefoilActiveHalf,  settled: obliqueTrefoilSettled,  settledStep: 1,   settledWidth: 2,   trend: obliqueTrefoilTrend,  min: -70,  max: 70,  ticks: obliqueTrefoilTicks }
];

// ---- layout ----
const FONT = 'DejaVu Sans';
const PLOT_LEFT = 118, PLOT_WIDTH = 1641, PLOT_TOP = 8.5, PANEL_H = 110.4;

function samples(values, start, step) {
  return values.map((v, i) => [start + i * step, v]);
}
// whole-second and half-second samples merged in time order
function interleave(whole, half) {
  const out = [];
  whole.forEach((v, i) => {
    out.push([i * ACTIVE_STEP, v]);
    if (i < half.length) out.push([i * ACTIVE_STEP + HALF_OFFSET, half[i]]);
  });
  return out;
}
const minusFmt = v => (v < 0 ? '\u2212' + Math.abs(v) : String(v));

const grid = [], xAxis = [], yAxis = [], series = [], legend = [];
const tickStyle = { show: true, inside: true, length: 8, lineStyle: { color: '#000', width: 1 } };
const noLine = { show: false, onZero: false };

panels.forEach((p, i) => {
  const top = PLOT_TOP + i * PANEL_H;
  const last = i === panels.length - 1;
  grid.push({
    left: PLOT_LEFT, top: top, width: PLOT_WIDTH, height: PANEL_H,
    show: true, borderColor: '#000', borderWidth: 1.6, backgroundColor: 'transparent'
  });
  const xBase = {
    gridIndex: i, type: 'value', min: timeTicks[0], max: timeTicks[timeTicks.length - 1],
    interval: timeTicks[1] - timeTicks[0],
    axisLine: noLine, splitLine: { show: false }, axisTick: tickStyle
  };
  xAxis.push(Object.assign({}, xBase, {
    position: 'bottom',
    axisLabel: { show: last, color: '#111', fontFamily: FONT, fontSize: 24, margin: 12 },
    name: last ? 'Time (s)' : '', nameLocation: 'middle', nameGap: 45,
    nameTextStyle: { color: '#111', fontFamily: FONT, fontSize: 29 }
  }));
  xAxis.push(Object.assign({}, xBase, { position: 'top', axisLabel: { show: false } }));
  const yBase = {
    gridIndex: i, type: 'value', min: p.min, max: p.max,
    axisLine: noLine, splitLine: { show: false },
    axisTick: Object.assign({ customValues: p.ticks }, tickStyle)
  };
  yAxis.push(Object.assign({}, yBase, {
    position: 'left',
    axisLabel: { customValues: p.ticks, formatter: minusFmt, color: '#111', fontFamily: FONT, fontSize: 24, margin: 8 }
  }));
  yAxis.push(Object.assign({}, yBase, { position: 'right', axisLabel: { show: false } }));

  const activePts = interleave(p.active, p.half);
  series.push({
    name: p.name, type: 'line', xAxisIndex: 2 * i, yAxisIndex: 2 * i,
    data: activePts,
    showSymbol: false, symbol: 'none', color: '#ff0000',
    lineStyle: { color: '#ff0000', width: 2.6, join: 'round' }, z: 2, silent: true
  });
  series.push({
    name: p.name, type: 'line', xAxisIndex: 2 * i, yAxisIndex: 2 * i,
    data: [activePts[activePts.length - 1]].concat(samples(p.settled, SETTLE_START, p.settledStep)),
    showSymbol: false, symbol: 'none', color: '#ff0000',
    lineStyle: { color: '#ff0000', width: p.settledWidth }, z: 2, silent: true
  });
  series.push({
    name: p.name + ' trend', type: 'line', xAxisIndex: 2 * i, yAxisIndex: 2 * i,
    data: samples(p.trend, 0, TREND_STEP).concat(samples(settledTrend, SETTLE_START, SETTLED_TREND_STEP)),
    showSymbol: false, symbol: 'none', color: '#000',
    lineStyle: { color: '#000', width: 2 }, z: 3, silent: true
  });

  legend.push({
    data: [p.name], right: 52, top: top + 8.5, orient: 'horizontal',
    icon: 'rect', itemWidth: 29, itemHeight: 2,
    padding: [7, 8, 7, 13], borderColor: '#000', borderWidth: 1.6, borderRadius: 0,
    backgroundColor: '#fff', selectedMode: false,
    textStyle: { color: '#222', fontFamily: FONT, fontSize: 18, padding: [0, 0, 0, 13] }
  });
});

const chart = echarts.init(document.getElementById('chart'), null, { renderer: 'canvas' });
chart.setOption({
  animation: false,
  backgroundColor: '#fff',
  grid, xAxis, yAxis, series, legend,
  graphic: [{
    type: 'text',
    rotation: Math.PI / 2,
    x: 28, y: 507,
    style: { text: 'Residuals (nm)', fontFamily: FONT, fontSize: 29, fill: '#111', textAlign: 'center', textVerticalAlign: 'middle' }
  }]
});
</script>
</body>
</html>
